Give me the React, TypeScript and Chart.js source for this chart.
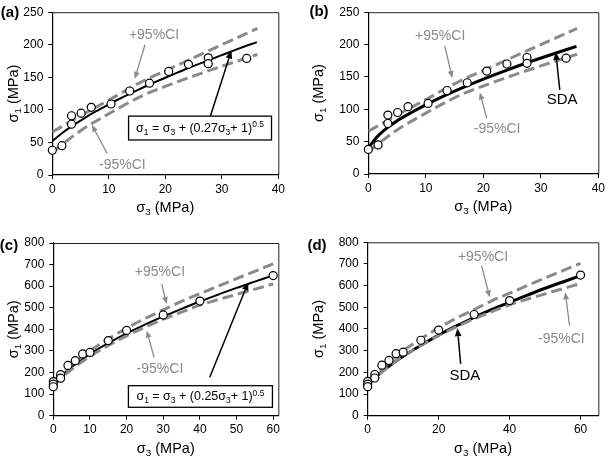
import React, { useEffect, useRef } from 'react';
import { Chart, registerables } from 'chart.js';

Chart.register(...registerables);

const FONT = '"Liberation Sans", Arial, Helvetica, sans-serif';
const GRAY = '#8a8a8a';

// ---------- data: panels (a) and (b) ----------
const obsS3_AB = [0, 1.7, 3.4, 3.4, 5.1, 6.9, 10.4, 13.7, 17.2, 20.6, 24.1, 27.6, 27.6, 34.4];
const obsS1_AB = [38, 45, 91, 78, 95, 104, 109, 129, 141, 159, 170, 180, 171, 179];

const fitS3_A = [0, 2, 4, 6, 8, 10, 12, 15, 18, 21, 24, 27, 30, 33, 36.2];
const fitS1_A = [52, 66, 78, 89, 99, 108.6, 117.5, 130, 142, 153, 164, 174, 184, 194, 204];

const fitS3_B = [0, 1, 2, 3.5, 5, 7.5, 10, 13, 16, 20, 24, 28, 32, 36.2];
const fitS1_B = [40, 52, 61.5, 72.8, 82.1, 95.1, 106.9, 119.8, 131.8, 146.6, 160.2, 173, 185, 197.2];

const ciS3_AB = [0, 5, 10, 16, 20, 25, 30, 36.3];
const ciUpper_AB = [66, 91, 115, 144, 160, 180, 200, 225];
const ciLower_AB = [35, 68, 94, 122, 136, 152, 167, 185];

// ---------- data: panels (c) and (d) ----------
const obsS3_CD = [0, 0, 0, 2, 2, 4, 6, 8, 10, 15, 20, 30, 40, 60];
const obsS1_CD = [158, 146, 134, 190, 174, 233, 255, 286, 293, 348, 395, 467, 531, 649];

const fitS3_CD = [0, 2, 4, 6, 8, 10, 15, 20, 25, 30, 35, 40, 45, 50, 55, 60];
const fitS1_C = [147, 182, 212, 239, 263, 286, 336, 381, 422, 460, 495, 529, 561, 592, 621, 650];
const fitS1_D = [145, 175, 203, 228, 252, 274, 325, 372, 414, 453, 490, 523, 556, 588, 617, 646];

const ciS3_CD = [0, 5, 10, 15, 20, 25, 30, 35, 40, 50, 60];
const ciUpper_CD = [160, 235, 300, 355, 405, 450, 490, 530, 565, 635, 703];
const ciLower_CD = [140, 215, 275, 325, 370, 410, 447, 480, 512, 562, 610];

const zip = (xs: number[], ys: number[]) => xs.map((x, i) => ({ x, y: ys[i] }));

type Seg = { t: string; mode?: 'sub' | 'sup' };
type Txt = { t: string; x: number; y: number; color: string; size: number };
type Arr = { x1: number; y1: number; x2: number; y2: number; color: string; w: number; head: number };

interface PanelCfg {
  left: number; top: number;
  area: { left: number; top: number; right: number; bottom: number };
  label: string; labelX: number; labelY: number;
  xMax: number; xStep: number; yMax: number; yStep: number;
  obsX: number[]; obsY: number[];
  fitX: number[]; fitY: number[]; fitW: number;
  ciX: number[]; ciU: number[]; ciL: number[];
  texts: Txt[];
  arrows: Arr[];
  eq?: { x1: number; x2: number; y1: number; y2: number; coef: string };
}

const ga = (x1: number, y1: number, x2: number, y2: number): Arr => ({ x1, y1, x2, y2, color: GRAY, w: 1.3, head: 7 });
const ba = (x1: number, y1: number, x2: number, y2: number): Arr => ({ x1, y1, x2, y2, color: '#000', w: 1.5, head: 8 });

const PANELS: PanelCfg[] = [
  {
    left: 0, top: 0, area: { left: 52.3, top: 9, right: 278.3, bottom: 175 },
    label: '(a)', labelX: 10, labelY: 13,
    xMax: 40, xStep: 10, yMax: 250, yStep: 50,
    obsX: obsS3_AB, obsY: obsS1_AB, fitX: fitS3_A, fitY: fitS1_A, fitW: 2,
    ciX: ciS3_AB, ciU: ciUpper_AB, ciL: ciLower_AB,
    texts: [
      { t: '+95%CI', x: 18, y: 215, color: GRAY, size: 14 },
      { t: '-95%CI', x: 12.4, y: 15, color: GRAY, size: 14 },
    ],
    arrows: [ga(16.4, 200, 14.6, 147.6), ga(9.7, 33, 7.0, 77), ba(28.0, 91, 31.7, 191)],
    eq: { x1: 13.5, x2: 38.8, y1: 53.8, y2: 90.4, coef: '0.27' },
  },
  {
    left: 305, top: 0, area: { left: 63.3, top: 7.3, right: 293.3, bottom: 174 },
    label: '(b)', labelX: 14, labelY: 12,
    xMax: 40, xStep: 10, yMax: 250, yStep: 50,
    obsX: obsS3_AB, obsY: obsS1_AB, fitX: fitS3_B, fitY: fitS1_B, fitW: 3,
    ciX: ciS3_AB, ciU: ciUpper_AB, ciL: ciLower_AB,
    texts: [
      { t: '+95%CI', x: 12.5, y: 213, color: GRAY, size: 14 },
      { t: '-95%CI', x: 22.4, y: 69, color: GRAY, size: 14 },
      { t: 'SDA', x: 33.7, y: 114, color: '#000', size: 15 },
    ],
    arrows: [ga(13.3, 198, 14.6, 148.5), ga(20.6, 86, 19.4, 126), ba(33.3, 130, 32.6, 188.5)],
  },
  {
    left: 0, top: 229, area: { left: 53.3, top: 14, right: 278.3, bottom: 186.7 },
    label: '(c)', labelX: 9, labelY: 17,
    xMax: 61.4, xStep: 10, yMax: 800, yStep: 100,
    obsX: obsS3_CD, obsY: obsS1_CD, fitX: fitS3_CD, fitY: fitS1_C, fitW: 2,
    ciX: ciS3_CD, ciU: ciUpper_CD, ciL: ciLower_CD,
    texts: [
      { t: '+95%CI', x: 29.1, y: 665, color: GRAY, size: 14 },
      { t: '-95%CI', x: 29.1, y: 216, color: GRAY, size: 14 },
    ],
    arrows: [ga(29.6, 610, 30.9, 517), ga(27.5, 270, 25.5, 394), ba(42.7, 178, 53.2, 618)],
    eq: { x1: 20.5, x2: 59.8, y1: 39, y2: 139, coef: '0.25' },
  },
  {
    left: 305, top: 229, area: { left: 62.7, top: 13.3, right: 293.3, bottom: 186.7 },
    label: '(d)', labelX: 12, labelY: 16.5,
    xMax: 65, xStep: 20, yMax: 800, yStep: 100,
    obsX: obsS3_CD, obsY: obsS1_CD, fitX: fitS3_CD, fitY: fitS1_D, fitW: 3,
    ciX: ciS3_CD, ciU: ciUpper_CD, ciL: ciLower_CD,
    texts: [
      { t: '+95%CI', x: 32.5, y: 731, color: GRAY, size: 14 },
      { t: '-95%CI', x: 54.6, y: 354, color: GRAY, size: 14 },
      { t: 'SDA', x: 27.4, y: 185, color: '#000', size: 15 },
    ],
    arrows: [ga(32.1, 692, 34.4, 546), ga(56.9, 415, 55.7, 569), ba(26.2, 239, 25.3, 403)],
  },
];

function richWidth(ctx: CanvasRenderingContext2D, segs: Seg[], size: number) {
  const small = size * 0.68;
  let w = 0;
  for (const s of segs) {
    ctx.font = `${s.mode ? small : size}px ${FONT}`;
    w += ctx.measureText(s.t).width;
  }
  return w;
}

function drawRich(ctx: CanvasRenderingContext2D, segs: Seg[], cx: number, baseline: number, size: number, color: string) {
  const small = size * 0.68;
  const w = richWidth(ctx, segs, size);
  let x = cx - w / 2;
  ctx.textAlign = 'left';
  ctx.textBaseline = 'alphabetic';
  ctx.fillStyle = color;
  for (const s of segs) {
    ctx.font = `${s.mode ? small : size}px ${FONT}`;
    const dy = s.mode === 'sub' ? size * 0.22 : s.mode === 'sup' ? -size * 0.38 : 0;
    ctx.fillText(s.t, x, baseline + dy);
    x += ctx.measureText(s.t).width;
  }
}

function drawArrow(ctx: CanvasRenderingContext2D, a: Arr, x1: number, y1: number, x2: number, y2: number) {
  const ang = Math.atan2(y2 - y1, x2 - x1);
  const c = Math.cos(ang), s = Math.sin(ang);
  const bx = x2 - a.head * c, by = y2 - a.head * s;
  ctx.strokeStyle = a.color;
  ctx.fillStyle = a.color;
  ctx.lineWidth = a.w;
  ctx.setLineDash([]);
  ctx.beginPath();
  ctx.moveTo(x1, y1);
  ctx.lineTo(bx, by);
  ctx.stroke();
  const hw = a.head * 0.42;
  ctx.beginPath();
  ctx.moveTo(x2, y2);
  ctx.lineTo(bx + hw * s, by - hw * c);
  ctx.lineTo(bx - hw * s, by + hw * c);
  ctx.closePath();
  ctx.fill();
}

function makeOverlay(cfg: PanelCfg) {
  return {
    id: 'overlay',
    afterDraw(chart: any) {
      const ctx: CanvasRenderingContext2D = chart.ctx;
      const xs = chart.scales.x, ys = chart.scales.y;
      const ca = chart.chartArea;
      ctx.save();
      // box top / right
      ctx.strokeStyle = '#222';
      ctx.lineWidth = 1;
      ctx.setLineDash([]);
      ctx.beginPath();
      ctx.moveTo(ca.left, ca.top + 0.5);
      ctx.lineTo(ca.right + 0.5, ca.top + 0.5);
      ctx.lineTo(ca.right + 0.5, ca.bottom);
      ctx.stroke();

      // panel label
      ctx.font = `bold 15px ${FONT}`;
      ctx.fillStyle = '#000';
      ctx.textAlign = 'center';
      ctx.textBaseline = 'middle';
      ctx.fillText(cfg.label, cfg.labelX, cfg.labelY);

      // axis titles
      const midX = (ca.left + ca.right) / 2;
      drawRich(ctx, [{ t: 'σ' }, { t: '3', mode: 'sub' }, { t: ' (MPa)' }], midX, ca.bottom + 37, 14.5, '#000');
      ctx.save();
      ctx.translate(12.5, (ca.top + ca.bottom) / 2);
      ctx.rotate(-Math.PI / 2);
      drawRich(ctx, [{ t: 'σ' }, { t: '1', mode: 'sub' }, { t: ' (MPa)' }], 0, 5, 14.5, '#000');
      ctx.restore();

      // texts
      for (const t of cfg.texts) {
        ctx.font = `${t.size}px ${FONT}`;
        ctx.fillStyle = t.color;
        ctx.textAlign = 'center';
        ctx.textBaseline = 'middle';
        ctx.fillText(t.t, xs.getPixelForValue(t.x), ys.getPixelForValue(t.y));
      }
      // arrows
      for (const a of cfg.arrows) {
        drawArrow(ctx, a, xs.getPixelForValue(a.x1), ys.getPixelForValue(a.y1), xs.getPixelForValue(a.x2), ys.getPixelForValue(a.y2));
      }
      // equation box
      if (cfg.eq) {
        const e = cfg.eq;
        const l = xs.getPixelForValue(e.x1), r = xs.getPixelForValue(e.x2);
        const t = ys.getPixelForValue(e.y2), b = ys.getPixelForValue(e.y1);
        ctx.fillStyle = '#fff';
        ctx.fillRect(l, t, r - l, b - t);
        ctx.strokeStyle = '#000';
        ctx.lineWidth = 1.3;
        ctx.strokeRect(l, t, r - l, b - t);
        drawRich(ctx, [
          { t: 'σ' }, { t: '1', mode: 'sub' }, { t: ' = σ' }, { t: '3', mode: 'sub' },
          { t: ' + (' + e.coef + 'σ' }, { t: '3', mode: 'sub' }, { t: '+ 1)' }, { t: '0.5', mode: 'sup' },
        ], (l + r) / 2, (t + b) / 2 + 4, 12.5, '#000');
      }
      ctx.restore();
    },
  };
}

function Panel({ cfg }: { cfg: PanelCfg }) {
  const ref = useRef<HTMLCanvasElement>(null);
  useEffect(() => {
    const tickFont = { family: FONT, size: 12 };
    const chart = new Chart(ref.current as HTMLCanvasElement, {
      type: 'scatter',
      data: {
        datasets: [
          {
            type: 'scatter',
            data: zip(cfg.obsX, cfg.obsY),
            pointRadius: 4,
            pointBackgroundColor: '#fff',
            pointBorderColor: '#000',
            pointBorderWidth: 1.2,
            clip: false,
          } as any,
          {
            type: 'line',
            data: zip(cfg.ciX, cfg.ciU),
            borderColor: GRAY,
            borderWidth: 3,
            borderDash: [11, 5],
            pointRadius: 0,
            cubicInterpolationMode: 'monotone',
            fill: false,
          } as any,
          {
            type: 'line',
            data: zip(cfg.ciX, cfg.ciL),
            borderColor: GRAY,
            borderWidth: 3,
            borderDash: [11, 5],
            pointRadius: 0,
            cubicInterpolationMode: 'monotone',
            fill: false,
          } as any,
          {
            type: 'line',
            data: zip(cfg.fitX, cfg.fitY),
            borderColor: '#000',
            borderWidth: cfg.fitW,
            pointRadius: 0,
            cubicInterpolationMode: 'monotone',
            fill: false,
          } as any,
        ],
      },
      options: {
        responsive: false,
        animation: false,
        devicePixelRatio: 1,
        layout: { padding: { left: 0, top: cfg.area.top, right: 305 - cfg.area.right, bottom: 0 } },
        plugins: { legend: { display: false }, tooltip: { enabled: false } },
        scales: {
          x: {
            type: 'linear',
            min: 0,
            max: cfg.xMax,
            ticks: { stepSize: cfg.xStep, includeBounds: false, font: tickFont, color: '#000', padding: 3, maxRotation: 0 },
            grid: { display: true, drawOnChartArea: false, drawTicks: true, tickLength: 4, color: '#000' },
            border: { display: true, color: '#000', width: 1.2 },
            afterFit: (s: any) => { s.height = 229 - cfg.area.bottom; },
          },
          y: {
            type: 'linear',
            min: 0,
            max: cfg.yMax,
            ticks: { stepSize: cfg.yStep, font: tickFont, color: '#000', padding: 5 },
            grid: { display: true, drawOnChartArea: false, drawTicks: true, tickLength: 4, color: '#000' },
            border: { display: true, color: '#000', width: 1.2 },
            afterFit: (s: any) => { s.width = cfg.area.left; },
          },
        },
      } as any,
      plugins: [makeOverlay(cfg)],
    });
    return () => chart.destroy();
  }, [cfg]);
  return (
    <canvas
      ref={ref}
      width={305}
      height={229}
      style={{ position: 'absolute', left: cfg.left, top: cfg.top, width: 305, height: 229 }}
    />
  );
}

export default function App() {
  return (
    <div style={{ position: 'absolute', left: 0, top: 0, width: 610, height: 458, background: '#fff', overflow: 'hidden' }}>
      {PANELS.map((p) => (
        <Panel key={p.label} cfg={p} />
      ))}
    </div>
  );
}
